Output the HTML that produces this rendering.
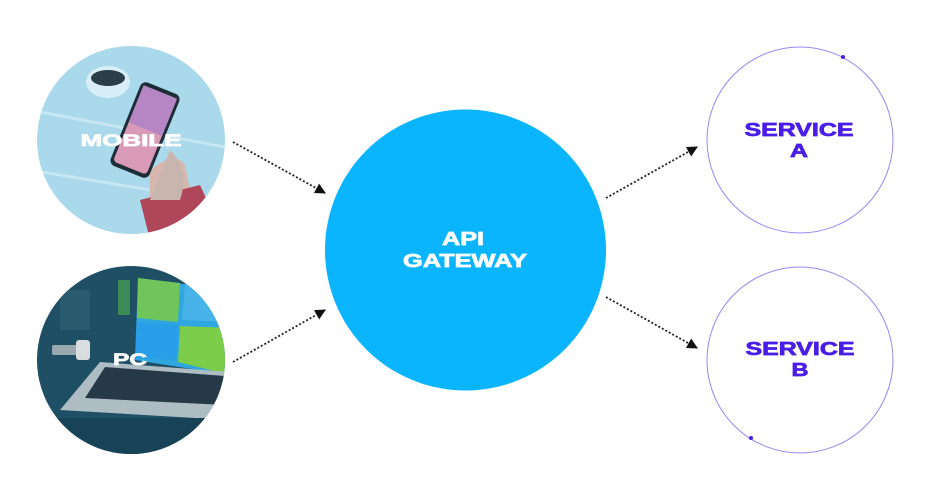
<!DOCTYPE html>
<html><head><meta charset="utf-8"><style>
html,body{margin:0;padding:0;background:#fff;}
svg{display:block}
text{font-family:"Liberation Sans",sans-serif;font-weight:bold;text-anchor:middle;stroke-width:0.7}
</style></head><body>
<svg width="931" height="500" viewBox="0 0 931 500" xmlns="http://www.w3.org/2000/svg">
<defs>
<clipPath id="cm"><circle cx="131" cy="140" r="94"/></clipPath>
<clipPath id="cp"><circle cx="131" cy="360" r="94"/></clipPath>
<marker id="ar" viewBox="0 0 10 10" refX="9" refY="5" markerWidth="6" markerHeight="6" orient="auto"><path d="M0,0 L10,5 L0,10 z" fill="#111"/></marker>
</defs>
<!-- mobile -->
<g clip-path="url(#cm)">
<rect x="30" y="40" width="210" height="200" fill="#a9d9ea"/>
<path d="M30 110 L240 150 M30 170 L240 205 M30 70 L90 40" stroke="#c6e7f2" stroke-width="3"/>
<ellipse cx="108" cy="82" rx="22" ry="16" fill="#d8eef6"/>
<ellipse cx="108" cy="78" rx="17" ry="8" fill="#2a3e4a"/>
<path d="M150 170 Q175 150 185 165 L200 240 L150 240 Z" fill="#d6b7b0"/>
<path d="M140 200 L200 185 L225 240 L150 240 Z" fill="#b0465a"/>
<g transform="rotate(22 145 130)">
<rect x="124" y="85" width="42" height="90" rx="6" fill="#1e2e38"/>
<rect x="127" y="89" width="36" height="82" rx="4" fill="#d99ab8"/>
<rect x="127" y="89" width="36" height="40" fill="#b585c4"/>
</g>
<path d="M170 150 Q190 170 180 200 L150 200 Z" fill="#c8b6ae"/>
</g>
<text x="131" y="146" font-size="17" fill="#fff" stroke="#fff" textLength="101" lengthAdjust="spacingAndGlyphs">MOBILE</text>
<!-- pc -->
<g clip-path="url(#cp)">
<rect x="30" y="260" width="210" height="200" fill="#1f4f64"/>
<rect x="60" y="290" width="30" height="40" fill="#2f6070" opacity="0.7"/>
<rect x="118" y="280" width="12" height="35" fill="#3d8c58"/>
<polygon points="138,278 230,290 230,375 135,360" fill="#2fa6e0"/>
<polygon points="138,278 180,283 178,322 137,318" fill="#6fc45a"/>
<polygon points="185,284 230,290 230,322 182,320" fill="#47b3e8"/>
<polygon points="137,322 178,325 176,360 135,358" fill="#2a9ee8"/>
<polygon points="180,326 230,328 230,375 178,362" fill="#7ccd4a"/>
<rect x="52" y="345" width="28" height="10" rx="2" fill="#9aa8b0"/>
<rect x="76" y="340" width="14" height="20" rx="3" fill="#d8dde0"/>
<polygon points="100,362 230,372 230,420 60,410" fill="#aebcc4"/>
<polygon points="105,367 225,376 225,405 85,398" fill="#253a46"/>
<rect x="30" y="418" width="210" height="50" fill="#184357"/>
</g>
<text x="130" y="365" font-size="17" fill="#fff" stroke="#fff" textLength="34" lengthAdjust="spacingAndGlyphs">PC</text>
<!-- api -->
<circle cx="465.5" cy="250" r="140.5" fill="#0bb5fd"/>
<text x="463" y="245" font-size="18" fill="#fff" stroke="#fff" textLength="42" lengthAdjust="spacingAndGlyphs">API</text>
<text x="465" y="267" font-size="18" fill="#fff" stroke="#fff" textLength="124" lengthAdjust="spacingAndGlyphs">GATEWAY</text>
<!-- services -->
<circle cx="800" cy="140" r="93" fill="none" stroke="#9b86f3" stroke-width="1"/>
<circle cx="843" cy="57" r="2" fill="#4a1de0"/>
<text x="799" y="136" font-size="18" fill="#4a1de8" stroke="#4a1de8" textLength="109" lengthAdjust="spacingAndGlyphs">SERVICE</text>
<text x="799" y="157" font-size="18" fill="#4a1de8" stroke="#4a1de8" textLength="18" lengthAdjust="spacingAndGlyphs">A</text>
<circle cx="800" cy="360" r="93" fill="none" stroke="#9b86f3" stroke-width="1"/>
<circle cx="751" cy="438" r="2" fill="#4a1de0"/>
<text x="800" y="355" font-size="18" fill="#4a1de8" stroke="#4a1de8" textLength="109" lengthAdjust="spacingAndGlyphs">SERVICE</text>
<text x="800" y="376" font-size="18" fill="#4a1de8" stroke="#4a1de8" textLength="17" lengthAdjust="spacingAndGlyphs">B</text>
<!-- arrows -->
<g stroke="#222" stroke-width="1.8" stroke-dasharray="2 2" fill="none" marker-end="url(#ar)">
<line x1="233" y1="142" x2="325" y2="193"/>
<line x1="233" y1="362" x2="325" y2="310"/>
<line x1="606" y1="198" x2="697" y2="147"/>
<line x1="606" y1="297" x2="697" y2="348"/>
</g>
</svg>
</body></html>
